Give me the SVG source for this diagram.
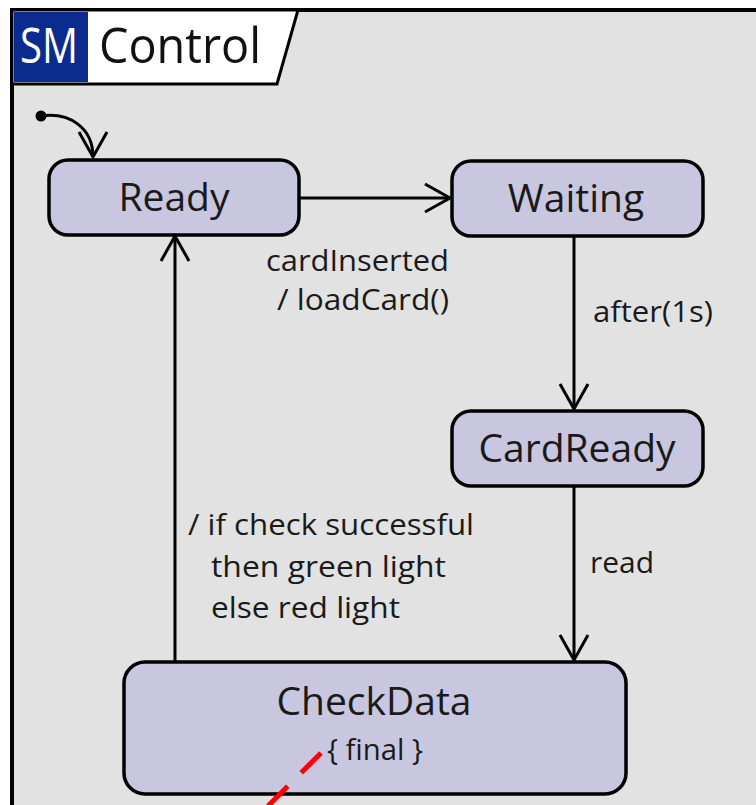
<svg xmlns="http://www.w3.org/2000/svg" width="756" height="805" viewBox="0 0 756 805">
  <style>
    .node { fill: #c9c7e0; stroke: #000; stroke-width: 3.5; }
    .title { font-family: "Open Sans", "Liberation Sans", sans-serif; font-size: 39px; fill: #1a1a1a; text-anchor: middle; }
    .lbl { font-family: "Open Sans", "Liberation Sans", sans-serif; font-size: 29px; fill: #1a1a1a; }
    .edge { fill: none; stroke: #000; stroke-width: 3; }
  </style>
  <defs>
    <marker id="open" markerUnits="userSpaceOnUse" markerWidth="40" markerHeight="40" viewBox="-30 -20 40 40" refX="0" refY="0" orient="auto">
      <path d="M-25,-14 L0,0 L-25,14" fill="none" stroke="#000" stroke-width="3"/>
    </marker>
  </defs>
  <rect width="756" height="805" fill="#ffffff"/>
  <g id="frame">
    <rect x="12" y="10" width="760" height="820" fill="#e2e2e2" stroke="#000" stroke-width="4"/>
    <polygon points="12,10 298,10 277,84 12,84" fill="#ffffff" stroke="#000" stroke-width="3"/>
    <rect x="14" y="12" width="74" height="70" fill="#0b2c8e"/>
    <text x="49" y="63" font-family="Open Sans, Liberation Sans, sans-serif" font-size="50" fill="#ffffff" text-anchor="middle" textLength="58" lengthAdjust="spacingAndGlyphs">SM</text>
    <text x="99" y="63" font-family="Open Sans, Liberation Sans, sans-serif" font-size="50" fill="#111" textLength="162" lengthAdjust="spacingAndGlyphs">Control</text>
  </g>
  <g id="initial">
    <circle cx="41" cy="116" r="5.5" fill="#000"/>
  </g>
  <g id="Ready">
    <rect class="node" x="49" y="160" width="250" height="75" rx="19"/>
    <text class="title" x="174" y="211">Ready</text>
  </g>
  <g id="Waiting">
    <rect class="node" x="452" y="161" width="251" height="75" rx="19"/>
    <text class="title" x="576" y="212">Waiting</text>
  </g>
  <g id="CardReady">
    <rect class="node" x="452" y="411" width="251" height="75" rx="19"/>
    <text class="title" x="577" y="462">CardReady</text>
  </g>
  <g id="CheckData">
    <rect class="node" x="124" y="662" width="502" height="132" rx="21"/>
    <text class="title" x="374" y="715">CheckData</text>
    <text class="lbl" x="327" y="760" textLength="96" lengthAdjust="spacingAndGlyphs">{ final }</text>
  </g>
  <g id="connectors">
    <path class="edge" d="M41,116 C70,112 93,128 93,157" marker-end="url(#open)"/>
    <path class="edge" d="M299,198 L450,198" marker-end="url(#open)"/>
    <path class="edge" d="M574,236 L574,409" marker-end="url(#open)"/>
    <path class="edge" d="M574,486 L574,660" marker-end="url(#open)"/>
    <path class="edge" d="M175,662 L175,236" marker-end="url(#open)"/>
    <text class="lbl" x="266" y="271" textLength="183" lengthAdjust="spacingAndGlyphs">cardInserted</text>
    <text class="lbl" x="277" y="310" textLength="172" lengthAdjust="spacingAndGlyphs">/ loadCard()</text>
    <text class="lbl" x="593" y="322" textLength="120" lengthAdjust="spacingAndGlyphs">after(1s)</text>
    <text class="lbl" x="590" y="573" textLength="64" lengthAdjust="spacingAndGlyphs">read</text>
    <text class="lbl" x="188" y="535" textLength="286" lengthAdjust="spacingAndGlyphs">/ if check successful</text>
    <text class="lbl" x="211" y="577" textLength="235" lengthAdjust="spacingAndGlyphs">then green light</text>
    <text class="lbl" x="211" y="618" textLength="189" lengthAdjust="spacingAndGlyphs">else red light</text>
  </g>
  <line x1="321" y1="753" x2="262" y2="812" stroke="#ff0000" stroke-width="5" stroke-dasharray="28 19"/>
</svg>
